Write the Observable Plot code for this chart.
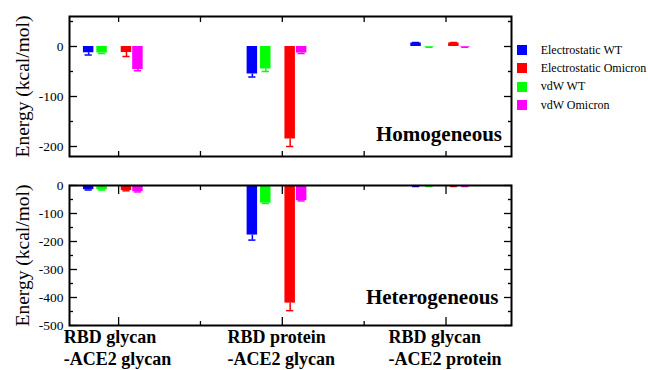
<!DOCTYPE html>
<html><head><meta charset="utf-8">
<script src="https://cdn.jsdelivr.net/npm/d3@7"></script>
<script src="https://cdn.jsdelivr.net/npm/@observablehq/plot@0.6"></script>
<style>
body{margin:0;background:#fff}
#fig{position:relative;width:648px;height:370px;overflow:hidden;background:#fff;font-family:'Liberation Serif',serif}
#fig .pan{position:absolute;left:0}
#fig svg{overflow:visible}
.legend{position:absolute;left:517px;top:41px;font-size:12px;color:#000;font-family:'Liberation Serif',serif}
.item{height:18.33px;display:flex;align-items:center;white-space:nowrap}
.sw{width:10px;height:10px;margin-right:13.7px;flex:none}
</style></head><body><div id="fig"></div>
<script>
// ---- data ----
const groups = ["RBD glycan\n-ACE2 glycan", "RBD protein\n-ACE2 glycan", "RBD glycan\n-ACE2 protein"];
const seriesNames = ["Electrostatic WT", "Electrostatic Omicron", "vdW WT", "vdW Omicron"];
const panelNames = ["Homogeneous", "Heterogeneous"];

// Homogeneous
const homoElecWT = [-12.5, -55, 7];
const homoElecWTErr = [4.5, 6, 1];
const homoElecOm = [-12, -185, 7];
const homoElecOmErr = [8, 15, 1];
const homoVdwWT = [-13, -45, -1];
const homoVdwWTErr = [1, 5, 0.5];
const homoVdwOm = [-46, -13, -1];
const homoVdwOmErr = [2.5, 1, 0.5];

// Heterogeneous
const hetElecWT = [-15, -177, -3];
const hetElecWTErr = [1, 18, 0.5];
const hetElecOm = [-18, -420, -3];
const hetElecOmErr = [1, 27, 0.5];
const hetVdwWT = [-15, -63, -3];
const hetVdwWTErr = [1, 1, 0.5];
const hetVdwOm = [-22, -54, -3];
const hetVdwOmErr = [1, 1, 0.5];

const homoTicksMajor = [0, -100, -200];
const homoTicksMinor = [50, -50, -150];
const hetTicksMajor = [0, -100, -200, -300, -400, -500];
const hetTicksMinor = [-50, -150, -250, -350, -450];
const xMajor = [1, 2, 3];
const xMinor = [1.5, 2.5];

// ---- style ----
const seriesColors = ["#0000ff", "#ff0000", "#00ff00", "#ff00ff"];
const seriesOffsets = [-0.183, 0.048, -0.101, 0.118];
const halfW = 0.032, capW = 0.022;
const FONT = "'Liberation Serif', 'Times New Roman', serif";

function rowsOf(vals, errs) {
  const out = [];
  vals.forEach((arr, s) => arr.forEach((v, g) => out.push({s, g, v, err: errs[s][g]})));
  return out;
}
const homoRows = rowsOf([homoElecWT, homoElecOm, homoVdwWT, homoVdwOm], [homoElecWTErr, homoElecOmErr, homoVdwWTErr, homoVdwOmErr]);
const hetRows = rowsOf([hetElecWT, hetElecOm, hetVdwWT, hetVdwOm], [hetElecWTErr, hetElecOmErr, hetVdwWTErr, hetVdwOmErr]);

const cx = d => d.g + 1 + seriesOffsets[d.s];
const tipOf = d => d.v + (d.v >= 0 ? 1 : -1) * d.err;
const blank = () => "";

function inward(ticksArr, len) {
  return [
    Plot.axisY({anchor: "left", ticks: ticksArr, tickSize: len, dx: len, tickFormat: blank, label: null, strokeWidth: 1.3}),
    Plot.axisY({anchor: "right", ticks: ticksArr, tickSize: len, dx: -len, tickFormat: blank, label: null, strokeWidth: 1.3})
  ];
}
function inwardX(ticksArr, len) {
  return [
    Plot.axisX({anchor: "bottom", ticks: ticksArr, tickSize: len, dy: -len, tickFormat: blank, label: null, strokeWidth: 1.3}),
    Plot.axisX({anchor: "top", ticks: ticksArr, tickSize: len, dy: len, tickFormat: blank, label: null, strokeWidth: 1.3})
  ];
}

function panel({rows, domain, major, minor, xLen, xMinLen, name, labelDx, labelDy, height, mt, mb, showX}) {
  const marks = [
    Plot.rect(rows, {x1: d => cx(d) - halfW, x2: d => cx(d) + halfW, y1: 0, y2: "v", fill: d => seriesColors[d.s]}),
    Plot.ruleX(rows, {x: cx, y1: "v", y2: tipOf, stroke: d => seriesColors[d.s], strokeWidth: 1.5}),
    Plot.ruleY(rows, {y: tipOf, x1: d => cx(d) - capW, x2: d => cx(d) + capW, stroke: d => seriesColors[d.s], strokeWidth: 1.5}),
    ...inward(major, 8),
    ...inward(minor, 4),
    ...inwardX(xMajor, xLen),
    ...inwardX(xMinor, xMinLen),
    Plot.axisY({anchor: "left", ticks: major, tickSize: 0, tickPadding: 6, tickFormat: d => String(d), fontSize: 13.5, fontFamily: FONT, label: null}),
    Plot.text([name], {text: d => d, frameAnchor: "bottom-right", textAnchor: "end", lineAnchor: "bottom", dx: labelDx, dy: labelDy, fontSize: 21, fontWeight: "bold", fontFamily: FONT, fill: "#000"}),
    Plot.text(["Energy (kcal/mol)"], {text: d => d, frameAnchor: "left", rotate: -90, textAnchor: "middle", lineAnchor: "middle", dx: -47, fontSize: 19.5, fontFamily: FONT, fill: "#000"}),
    Plot.frame({stroke: "#000", strokeWidth: 2})
  ];
  if (showX) {
    const ctx = document.createElement("canvas").getContext("2d");
    ctx.font = "bold 18px 'Liberation Serif'";
    groups.forEach((g, i) => {
      const w = Math.max(...g.split("\n").map(l => ctx.measureText(l).width));
      marks.push(Plot.text([{x: i + 1, t: g}], {x: "x", text: "t", frameAnchor: "bottom", textAnchor: "start", lineAnchor: "top", dx: -w / 2 - 1, dy: 3, lineHeight: 1.17, fontSize: 18, fontWeight: "bold", fontFamily: FONT, fill: "#000"}));
    });
  }
  return Plot.plot({
    width: 648, height, marginLeft: 69, marginRight: 137, marginTop: mt, marginBottom: mb,
    x: {domain: [0.7, 3.4]},
    y: {domain},
    style: {fontFamily: FONT, color: "#000", background: "transparent", overflow: "visible"},
    marks
  });
}

const fig = document.getElementById("fig");
function place(el, top) {
  const d = document.createElement("div"); d.className = "pan"; d.style.top = top + "px"; d.appendChild(el); fig.appendChild(d);
}
place(panel({rows: homoRows, domain: [-220, 60], major: homoTicksMajor, minor: homoTicksMinor, xLen: 5, xMinLen: 5, name: panelNames[0], labelDx: -9.5, labelDy: -16, height: 175, mt: 16, mb: 19, showX: false}), 0);
place(panel({rows: hetRows, domain: [-500, 0], major: hetTicksMajor, minor: hetTicksMinor, xLen: 8, xMinLen: 4, name: panelNames[1], labelDx: -13, labelDy: -22, height: 200, mt: 15, mb: 45, showX: true}), 170);

const lg = document.createElement("div"); lg.className = "legend";
seriesNames.forEach((n, i) => {
  const it = document.createElement("div"); it.className = "item";
  const sw = document.createElement("div"); sw.className = "sw"; sw.style.background = seriesColors[i];
  const tx = document.createElement("span"); tx.textContent = n;
  it.appendChild(sw); it.appendChild(tx); lg.appendChild(it);
});
fig.appendChild(lg);
</script></body></html>
